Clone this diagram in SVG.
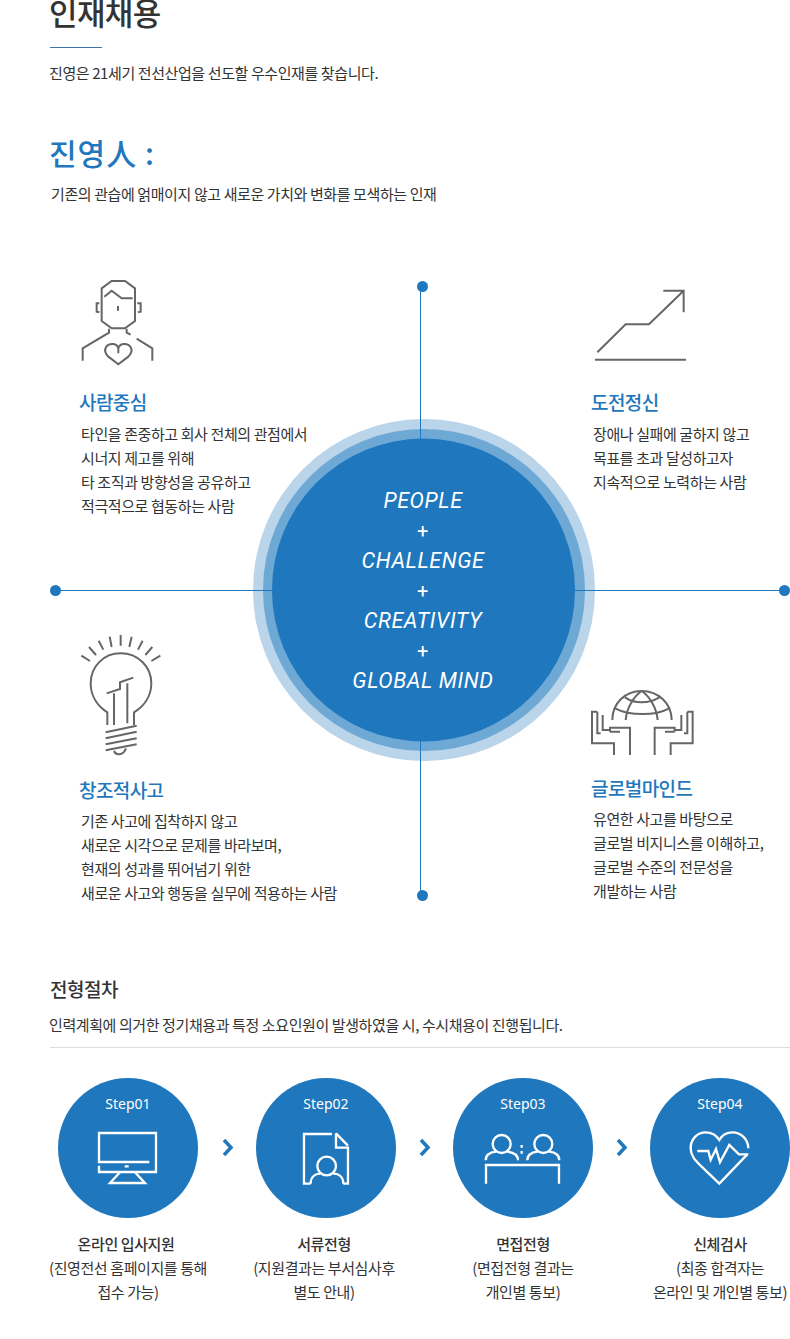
<svg xmlns="http://www.w3.org/2000/svg" width="790" height="1339" viewBox="0 0 790 1339">
<style>
text{font-family:"Noto Sans CJK KR",sans-serif;fill:#333;font-size:15px;letter-spacing:-.4px}
.h{fill:#1f77bd;font-size:19px;font-weight:500;letter-spacing:-.6px}
.m{text-anchor:middle}
.en{font-family:"Roboto",sans-serif;font-style:italic;font-size:21.500px;fill:#fff;text-anchor:middle;letter-spacing:.6px;font-weight:400}
.st{font-family:"Noto Sans",sans-serif;fill:#fff;font-size:14px;text-anchor:middle;letter-spacing:0}
.ic{fill:none;stroke:#666;stroke-width:6}
.wi{fill:none;stroke:#fff;stroke-width:7}
.b{fill:#1f77bd}
.ch{fill:none;stroke:#1f77bd;stroke-width:3.500}
</style>
<rect width="790" height="1339" fill="#fff"/>
<g id="header">
<text x="49" y="25" style="font-size:31px;letter-spacing:-.6px;font-weight:500">인재채용</text>
<rect x="50" y="47" width="52" height="1" fill="#3a76ad"/>
<text x="49" y="79">진영은 21세기 전선산업을 선도할 우수인재를 찾습니다.</text>
<text x="49" y="165" style="font-size:30px;fill:#1f77bd;font-weight:500;letter-spacing:1px">진영人 :</text>
<text x="51" y="200">기존의 관습에 얽매이지 않고 새로운 가치와 변화를 모색하는 인재</text>
</g>
<g id="connectors" fill="#1f77bd">
<rect x="420" y="286" width="1" height="609"/>
<rect x="55" y="590" width="729" height="1"/>
<circle cx="422.500" cy="286.500" r="5.500"/>
<circle cx="422.500" cy="895.500" r="5.500"/>
<circle cx="55.500" cy="590.500" r="5.500"/>
<circle cx="784.500" cy="590.500" r="5.500"/>
</g>
<g id="center">
<circle cx="424" cy="590" r="171" fill="#bad4ea"/>
<circle cx="424" cy="590" r="161" fill="#6ea8d5"/>
<circle cx="423.500" cy="590" r="151.500" fill="#1f77bd"/>
<rect x="420" y="419" width="1" height="20" fill="#1f77bd"/>
<rect x="420" y="741" width="1" height="20" fill="#1f77bd"/>
<rect x="253" y="590" width="20" height="1" fill="#1f77bd"/>
<rect x="575" y="590" width="20" height="1" fill="#1f77bd"/>
<text class="en" x="423" y="508">PEOPLE</text>
<text class="en" x="423" y="538" style="font-style:normal;font-size:20px">+</text>
<text class="en" x="423" y="568">CHALLENGE</text>
<text class="en" x="423" y="598" style="font-style:normal;font-size:20px">+</text>
<text class="en" x="423" y="628">CREATIVITY</text>
<text class="en" x="423" y="658" style="font-style:normal;font-size:20px">+</text>
<text class="en" x="423" y="688">GLOBAL MIND</text>
</g>
<g id="people">
<g transform="translate(60 270) scale(.3333)" class="ic">
<path d="M125 55L155 33H195L225 55V153L195 175H155L125 153Z"/>
<path d="M133 80L155 62L185 85H218M174 108V122M118 100H110V125L118 127M232 100H242V125L234 127M147 176V188L68 235V272M200 176V188L212 194M230 206L277 235V272"/>
<path d="M175 283L145 260C125 240 140 220 160 222C168 223 173 228 175 235C177 228 182 223 190 222C210 220 225 240 205 260ZM175 235V250"/>
</g>
<text class="h" x="79" y="410">사람중심</text>
<text x="81" y="440">타인을 존중하고 회사 전체의 관점에서</text>
<text x="81" y="464">시너지 제고를 위해</text>
<text x="81" y="488">타 조직과 방향성을 공유하고</text>
<text x="81" y="512">적극적으로 협동하는 사람</text>
</g>
<g id="challenge">
<g transform="translate(580 275) scale(.3333)" class="ic">
<path d="M52 232L137 148H207L311 47M250 47H311V112"/>
<path d="M45 254H318" stroke-width="6"/>
</g>
<text class="h" x="591" y="410">도전정신</text>
<text x="593" y="440">장애나 실패에 굴하지 않고</text>
<text x="593" y="464">목표를 초과 달성하고자</text>
<text x="593" y="488">지속적으로 노력하는 사람</text>
</g>
<g id="creativity">
<g transform="translate(70 625) scale(.3333)" class="ic">
<path d="M152 30V62M119 35L125 66M86 47L100 74M57 66L78 90M34 92L60 108M185 35L178 66M218 47L204 74M247 66L226 90M271 92L244 108"/>
<path d="M112 300V262C85 245 62 215 62 175C62 125 100 85 152 85C204 85 244 125 244 175C244 215 220 245 192 262V300"/>
<path d="M110 205L150 192V172L190 158M132 205V300M172 175V295M107 322L200 302M107 340L200 320M107 358L200 340M107 376L200 358M132 378C138 392 160 392 168 370"/>
</g>
<text class="h" x="79" y="798">창조적사고</text>
<text x="81" y="827">기존 사고에 집착하지 않고</text>
<text x="81" y="851">새로운 시각으로 문제를 바라보며,</text>
<text x="81" y="875">현재의 성과를 뛰어넘기 위한</text>
<text x="81" y="899">새로운 사고와 행동을 실무에 적용하는 사람</text>
</g>
<g id="global">
<g transform="translate(580 680) scale(.3333)" class="ic">
<path d="M97 120C97 70 135 33 185 33C235 33 275 70 275 120"/>
<path d="M105 85C150 108 225 108 268 85M135 52C165 72 205 72 238 52M137 120C140 85 160 50 185 33C210 50 230 85 233 120"/>
<path d="M52 95H36V190H102V225M52 95V160H62M68 105V150H90M90 155V143H150V225M90 155H120"/>
<path d="M322 95H338V190H272V225M322 95V160H312M304 105V150H284M284 155V143H224V225M284 155H255"/>
</g>
<text class="h" x="591" y="796">글로벌마인드</text>
<text x="593" y="825">유연한 사고를 바탕으로</text>
<text x="593" y="849">글로벌 비지니스를 이해하고,</text>
<text x="593" y="873">글로벌 수준의 전문성을</text>
<text x="593" y="897">개발하는 사람</text>
</g>
<g id="process-header">
<text x="50" y="997" style="font-size:19px;font-weight:500;letter-spacing:-.5px">전형절차</text>
<text x="49" y="1031">인력계획에 의거한 정기채용과 특정 소요인원이 발생하였을 시, 수시채용이 진행됩니다.</text>
<rect x="50" y="1047" width="740" height="1" fill="#ddd"/>
</g>
<g id="step1">
<circle class="b" cx="128" cy="1148" r="70"/>
<text class="st" x="128" y="1109">Step01</text>
<g transform="translate(50 1075) scale(.3333)" class="wi">
<path d="M298 261H147V174H318V291H147V272"/>
<path d="M224 274H236M210 292L180 324H285L255 292"/>
</g>
<text class="m" x="126" y="1250" style="font-weight:500">온라인 입사지원</text>
<text class="m" x="128" y="1274">(진영전선 홈페이지를 통해</text>
<text class="m" x="128" y="1298">접수 가능)</text>
</g>
<g id="step2">
<circle class="b" cx="326" cy="1148" r="70"/>
<text class="st" x="326" y="1109">Step02</text>
<g transform="translate(50 1075) scale(.3333)" class="wi">
<path d="M846 177H762V326H782M858 175V218H894V326H880"/>
<path d="M858 175L894 212"/>
<circle cx="830" cy="273" r="28"/>
<path d="M782 326C782 302 800 296 812 296M880 326C880 302 862 296 850 296"/>
</g>
<text class="m" x="324" y="1250" style="font-weight:500">서류전형</text>
<text class="m" x="324" y="1274">(지원결과는 부서심사후</text>
<text class="m" x="324" y="1298">별도 안내)</text>
</g>
<g id="step3">
<circle class="b" cx="523" cy="1148" r="70"/>
<text class="st" x="523" y="1109">Step03</text>
<g transform="translate(440 1075) scale(.3333)" class="wi">
<circle cx="185" cy="207" r="27"/>
<circle cx="310" cy="207" r="27"/>
<path d="M137 256C137 240 150 232 168 230M234 256C234 240 220 232 202 230M262 256C262 240 275 232 293 230M358 256C358 240 345 232 327 230"/>
<path d="M138 326V270H357V326"/>
<path d="M245 210V218M245 228V236"/>
</g>
<text class="m" x="523" y="1250" style="font-weight:500">면접전형</text>
<text class="m" x="523" y="1274">(면접전형 결과는</text>
<text class="m" x="523" y="1298">개인별 통보)</text>
</g>
<g id="step4">
<circle class="b" cx="720" cy="1148" r="70"/>
<text class="st" x="720" y="1109">Step04</text>
<g transform="translate(440 1075) scale(.3333)" class="wi">
<path d="M925 220C925 190 900 172 878 172C860 172 845 182 838 195C830 182 815 172 797 172C772 172 752 192 752 220C752 245 770 260 785 275L838 326L922 238"/>
<path d="M772 228H805L812 255L828 222L840 262L868 210L897 238H925"/>
</g>
<text class="m" x="720" y="1250" style="font-weight:500">신체검사</text>
<text class="m" x="720" y="1274">(최종 합격자는</text>
<text class="m" x="720" y="1298">온라인 및 개인별 통보)</text>
</g>
<g id="chevrons">
<path class="ch" d="M224 1140L231 1147.500L224 1155"/>
<path class="ch" d="M421 1140L428 1147.500L421 1155"/>
<path class="ch" d="M618 1140L625 1147.500L618 1155"/>
</g>
</svg>
